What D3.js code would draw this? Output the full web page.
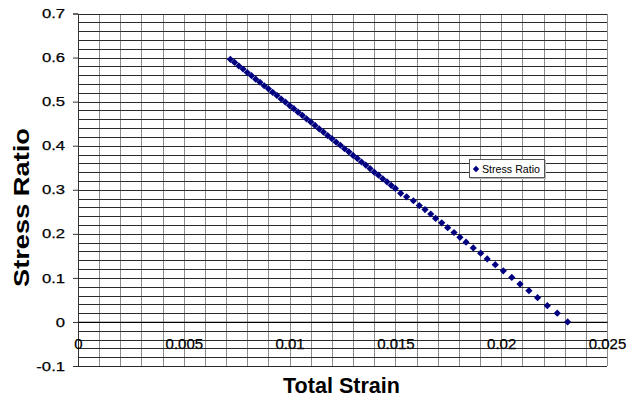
<!DOCTYPE html>
<html>
<head>
<meta charset="utf-8">
<script src="https://cdn.jsdelivr.net/npm/d3@7"></script>
<style>
  body { margin: 0; background: #fff; }
  svg text { font-family: "Liberation Sans", Arial, sans-serif; fill: #000; }
</style>
</head>
<body>
<div id="chart"></div>
<script>
// data
var strain = [0.0072, 0.0074, 0.0076, 0.0078, 0.0080, 0.0082, 0.0084, 0.0086, 0.0088, 0.0090,
              0.0092, 0.0094, 0.0096, 0.0098, 0.0100, 0.0102, 0.0104, 0.0106, 0.0108, 0.0110,
              0.0112, 0.0114, 0.0116, 0.0118, 0.0120, 0.0122, 0.0124, 0.0126, 0.0128, 0.0130,
              0.0132, 0.0134, 0.0136, 0.0138, 0.0140, 0.0142, 0.0144, 0.0146, 0.0148, 0.0150,
              0.01525, 0.01553, 0.01585, 0.01613, 0.01640, 0.01667, 0.01690, 0.01719, 0.01747,
              0.01777, 0.01805, 0.01834, 0.01868, 0.01903, 0.01934, 0.01972, 0.02010, 0.02050,
              0.02089, 0.02131, 0.02172, 0.02218, 0.02265, 0.02314];
var stressRatio = [0.596, 0.589, 0.581, 0.574, 0.566, 0.559, 0.551, 0.544, 0.536, 0.529,
                   0.521, 0.514, 0.506, 0.499, 0.491, 0.484, 0.476, 0.469, 0.461, 0.454,
                   0.446, 0.438, 0.431, 0.423, 0.416, 0.408, 0.401, 0.393, 0.386, 0.378,
                   0.371, 0.363, 0.356, 0.348, 0.340, 0.333, 0.325, 0.318, 0.310, 0.303,
                   0.292, 0.284, 0.275, 0.264, 0.255, 0.245, 0.235, 0.225, 0.214,
                   0.203, 0.192, 0.181, 0.168, 0.156, 0.143, 0.130, 0.116, 0.101,
                   0.086, 0.071, 0.055, 0.037, 0.020, 0.000];
var xTicks = [0, 0.005, 0.01, 0.015, 0.02, 0.025];
var yTicks = [0.7, 0.6, 0.5, 0.4, 0.3, 0.2, 0.1, 0, -0.1];
var seriesName = "Stress Ratio";

var width = 626, height = 404;
var margin = {top: 13.5, right: 19, bottom: 38, left: 78};

var x = d3.scaleLinear().domain([0, 0.025]).range([margin.left, width - margin.right]);
var y = d3.scaleLinear().domain([-0.1, 0.7]).range([height - margin.bottom, margin.top]);

var svg = d3.select("#chart").append("svg")
    .attr("width", width)
    .attr("height", height);

// diamond marker
function diamond(r) {
  var p = d3.path();
  p.moveTo(0, -r); p.lineTo(r, 0); p.lineTo(0, r); p.lineTo(-r, 0); p.closePath();
  return p.toString();
}

// vertical gridlines every 0.001
var grid = svg.append("g").attr("shape-rendering", "crispEdges");
grid.selectAll("vline")
    .data(d3.range(0, 26).map(function(i) { return i / 1000; }))
  .enter().append("line")
    .attr("x1", function(d) { return Math.round(x(d)) + 0.5; })
    .attr("x2", function(d) { return Math.round(x(d)) + 0.5; })
    .attr("y1", y(0.7))
    .attr("y2", y(-0.1))
    .style("stroke", "#8c8c8c");

// horizontal gridlines every 0.02
grid.selectAll("hline")
    .data(d3.range(-5, 36).map(function(i) { return i / 50; }))
  .enter().append("line")
    .attr("x1", x(0))
    .attr("x2", x(0.025))
    .attr("y1", function(d) { return Math.round(y(d)) + 0.5; })
    .attr("y2", function(d) { return Math.round(y(d)) + 0.5; })
    .style("stroke", "#2a2a2a");

// y axis
var yAxis = svg.append("g")
    .attr("transform", "translate(" + x(0) + ",0)")
    .call(d3.axisLeft(y).tickValues(yTicks).tickSize(5).tickPadding(8)
      .tickFormat(function(d) { return d === 0 ? "0" : String(+d.toFixed(1)); }));
yAxis.select(".domain").style("stroke", "#333");
yAxis.selectAll(".tick line").style("stroke", "#333");
yAxis.selectAll("text")
    .attr("font-family", null)
    .style("font-size", "13px")
    .style("stroke", "#000").style("stroke-width", 0.25)
    .attr("textLength", function() { return this.getComputedTextLength() * 1.28; })
    .attr("lengthAdjust", "spacingAndGlyphs");

// x axis crossing at y = 0
var xAxis = svg.append("g")
    .attr("transform", "translate(0," + y(0) + ")")
    .call(d3.axisBottom(x).tickValues(xTicks).tickSize(0).tickPadding(16)
      .tickFormat(function(d) { return d === 0 ? "0" : String(+d.toFixed(3)); }));
xAxis.select(".domain").style("stroke", "#000").style("stroke-width", 1.3);
xAxis.selectAll("text")
    .attr("font-family", null)
    .style("font-size", "15px")
    .style("stroke", "#000").style("stroke-width", 0.25);

// points
svg.selectAll("dot")
    .data(strain)
  .enter().append("path")
    .attr("d", diamond(3.6))
    .attr("transform", function(d, i) { return "translate(" + x(d) + "," + y(stressRatio[i]) + ")"; })
    .style("fill", "#000080");

// legend
var legend = svg.append("g").attr("transform", "translate(469,159)");
legend.append("rect")
    .attr("x", 1).attr("y", 1).attr("width", 76).attr("height", 19)
    .style("fill", "#bbb");
legend.append("rect")
    .attr("x", 0.5).attr("y", 0.5).attr("width", 75).attr("height", 18)
    .style("fill", "#fff").style("stroke", "#555");
legend.append("path")
    .attr("d", diamond(3.2))
    .attr("transform", "translate(7,10)")
    .style("fill", "#000080");
legend.append("text")
    .attr("x", 13).attr("y", 14)
    .attr("textLength", 58).attr("lengthAdjust", "spacingAndGlyphs")
    .style("font-size", "11px")
    .text(seriesName);

// axis titles
svg.append("text")
    .attr("text-anchor", "middle")
    .attr("x", 341.5).attr("y", 393)
    .attr("textLength", 117).attr("lengthAdjust", "spacingAndGlyphs")
    .style("font-size", "22px").style("font-weight", "bold")
    .text("Total Strain");

svg.append("text")
    .attr("text-anchor", "middle")
    .attr("transform", "translate(29,207.5)rotate(-90)")
    .attr("textLength", 159).attr("lengthAdjust", "spacingAndGlyphs")
    .style("font-size", "22px").style("font-weight", "bold")
    .text("Stress Ratio");
</script>
</body>
</html>
